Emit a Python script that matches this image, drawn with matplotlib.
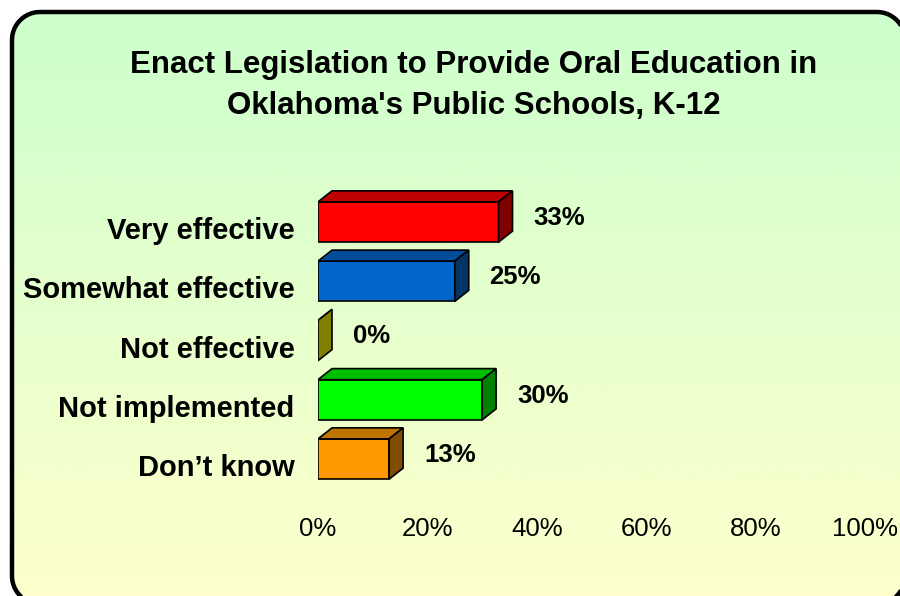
import numpy as np
import matplotlib
matplotlib.use("Agg")
import matplotlib.pyplot as plt
from matplotlib.patches import PathPatch, Polygon
from matplotlib.path import Path
from matplotlib.colors import to_rgb

plt.rcParams['font.family'] = ['Liberation Sans', 'DejaVu Sans']

title = "Enact Legislation to Provide Oral Education in\nOklahoma's Public Schools, K-12"
categories = ["Very effective", "Somewhat effective", "Not effective", "Not implemented", "Don\u2019t know"]
values = [33, 25, 0, 30, 13]
bar_colors = ["#FF0000", "#0066CC", "#FFFF00", "#00FF00", "#FF9900"]
xticks = [0, 20, 40, 60, 80, 100]


def rounded_rect(x0, y0, x1, y1, r):
    pts = []
    corners = [(x1 - r, y1 - r, 0), (x0 + r, y1 - r, 90), (x0 + r, y0 + r, 180), (x1 - r, y0 + r, 270)]
    for cx, cy, a0 in corners:
        a = np.radians(np.linspace(a0, a0 + 90, 20))
        pts += list(zip(cx + r * np.cos(a), cy + r * np.sin(a)))
    pts.append(pts[0])
    return Path(pts, closed=True)


fig = plt.figure(figsize=(9, 5.96), dpi=100)
fig.patch.set_facecolor("white")

# background panel: rounded border, green -> yellow gradient
bg = fig.add_axes([0, 0, 1, 1])
bg.set_xlim(0, 900)
bg.set_ylim(0, 596)
bg.set_autoscale_on(False)
bg.axis("off")
frame = PathPatch(rounded_rect(12, -8, 905, 584, 28),
                  facecolor="none", edgecolor="black", linewidth=3.2, zorder=3)
bg.add_patch(frame)
top = np.array(to_rgb("#CCFFCC"))
bot = np.array(to_rgb("#FFFFCC"))
t = np.linspace(0, 1, 256)[:, None]
grad = (top * (1 - t) + bot * t)[:, None, :]
im = bg.imshow(grad, extent=(12, 905, -8, 584), origin="upper", aspect="auto", zorder=1)
im.set_clip_path(frame)

fig.text(474 / 900, 1 - 85.5 / 596, title, ha="center", va="center",
         fontsize=22.5, fontweight="bold", linespacing=1.45)

# main chart axes
ax = fig.add_axes([318 / 900, 91 / 596, 547 / 900, 335 / 596])
ax.patch.set_alpha(0)
for s in ax.spines.values():
    s.set_visible(False)
ax.set_xlim(0, 100)
ax.set_ylim(4.776, -0.878)
ax.set_yticks([])
ax.set_xticks(xticks)
ax.set_xticklabels([f"{v}%" for v in xticks], fontsize=18.5)
ax.tick_params(axis="x", length=0, pad=8.5)

h = 0.68
dx = 2.56
dy = 0.186
y = np.arange(len(categories))
ax.barh(y, values, height=h, color=bar_colors, edgecolor="black", linewidth=1.2, zorder=3)
for i, (v, c) in enumerate(zip(values, bar_colors)):
    rgb = np.array(to_rgb(c))
    y0 = i - h / 2
    y1 = i + h / 2
    top_face = Polygon([(0, y0), (v, y0), (v + dx, y0 - dy), (dx, y0 - dy)],
                       closed=True, facecolor=rgb * 0.75, edgecolor="black", linewidth=1.2, zorder=3)
    side_face = Polygon([(v, y0), (v + dx, y0 - dy), (v + dx, y1 - dy), (v, y1)],
                        closed=True, facecolor=rgb * 0.5, edgecolor="black", linewidth=1.2, zorder=3)
    ax.add_patch(top_face)
    ax.add_patch(side_face)
    ax.annotate(f"{v}%", xy=(v + dx, i - dy / 2), xytext=(15, -1), textcoords="offset points",
                ha="left", va="center", fontsize=18.5, fontweight="bold")
    ax.annotate(categories[i], xy=(0, i), xycoords=("axes fraction", "data"),
                xytext=(-17, -6.5), textcoords="offset points",
                ha="right", va="center", fontsize=21, fontweight="bold")

fig.savefig("out.png", dpi=100)
